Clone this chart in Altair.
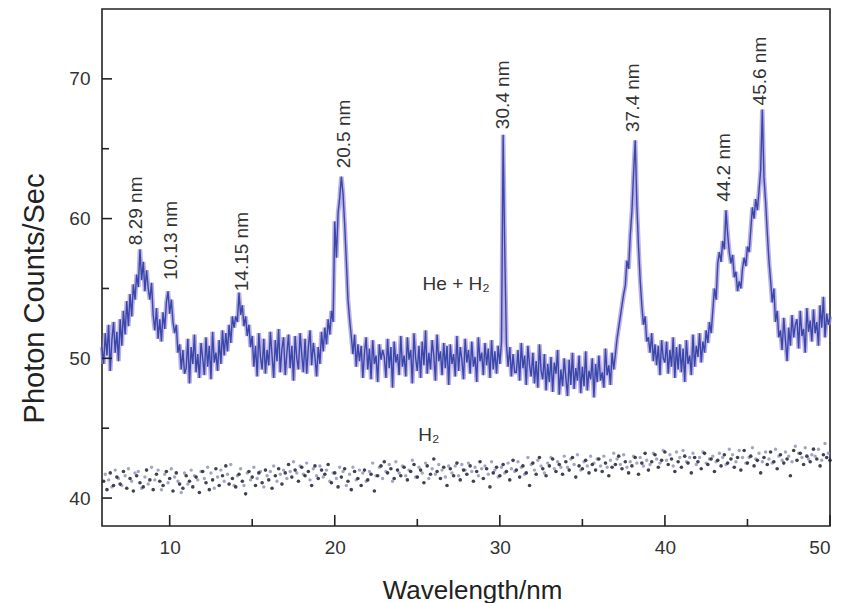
import altair as alt
import pandas as pd

# ---------------- data ----------------
# He + H2 spectrum, sampled every 0.1 nm starting at 5.9 nm
spec_start = 5.9
spec_step = 0.1
he_h2_counts = [
    50.8,
    49.6, 51.8, 50.2, 52.4, 49.1, 51.3, 52.6, 50.4, 51.9, 49.8,
    52.8, 50.9, 53.4, 51.7, 54.1, 52.3, 54.6, 53.0, 55.3, 54.2,
    56.0, 55.1, 57.8, 55.6, 56.9, 54.8, 56.3, 55.0, 54.2, 55.4,
    53.1, 52.0, 53.6, 51.4, 52.8, 51.2, 53.3, 52.1, 54.0, 54.8,
    53.2, 54.2, 52.6, 51.8, 52.4, 50.4, 51.0, 49.2, 50.6, 48.9,
    49.3, 51.4, 48.2, 50.8, 49.6, 51.7, 49.0, 50.3, 48.6, 51.1,
    50.0, 48.8, 51.5, 49.4, 50.9, 48.5, 51.9, 49.7, 50.4, 49.1,
    51.3, 49.6, 52.0, 50.2, 51.8, 50.5, 52.4, 51.1, 53.0, 52.2,
    53.0, 52.6, 54.7, 53.1, 53.8, 52.3, 53.0, 51.6, 52.4, 50.8,
    51.6, 49.4, 50.9, 48.7, 51.8, 50.1, 49.2, 51.4, 48.9, 50.6,
    49.5, 51.9, 50.2, 48.6, 51.3, 49.8, 52.1, 49.0, 50.7, 51.5,
    48.8, 50.4, 51.7, 49.3, 50.9, 48.4, 51.6, 50.0, 49.2, 51.8,
    50.3, 49.0, 51.4, 48.9, 50.8, 52.0, 49.5, 51.1, 50.1, 48.7,
    50.8, 49.6, 51.9, 50.5, 52.2, 51.0, 52.8, 51.7, 53.4, 52.6,
    59.8, 57.2, 60.4, 61.5, 63.0, 61.8, 59.6, 57.0, 54.2, 52.8,
    51.6, 50.3, 51.7, 49.4, 51.0, 49.8, 50.9, 48.6, 50.4, 51.5,
    49.2, 50.7, 48.5, 51.3, 49.6, 50.2, 48.3, 51.0, 49.9, 50.6,
    50.1, 48.6, 51.4, 49.3, 50.8, 47.9, 51.2, 49.7, 50.3, 48.8,
    51.6, 49.4, 50.2, 48.7, 51.5, 49.9, 50.6, 48.2, 51.8, 50.0,
    49.1, 50.9, 48.6, 51.2, 49.5, 52.0, 48.9, 50.4, 49.2, 51.3,
    50.2, 48.4, 51.7, 49.8, 50.5, 48.8, 51.1, 49.3, 50.9, 48.1,
    51.0, 49.6, 50.3, 48.7, 51.6, 49.1, 50.8, 49.9, 48.5, 51.4,
    49.7, 50.6, 48.9, 51.2, 49.4, 50.1, 48.3, 51.5, 49.8, 50.4,
    48.8, 51.1, 49.5, 50.7, 48.6, 51.3, 49.2, 50.5, 48.9, 50.9,
    49.6, 51.2, 66.0, 57.5, 51.0, 49.4, 50.8, 48.7, 50.3, 49.0,
    49.0, 50.6, 48.4, 51.1, 49.3, 50.2, 48.1, 50.9, 49.5, 48.7,
    50.4, 48.2, 49.8, 47.9, 51.0, 49.1, 48.5, 50.3, 47.7, 49.6,
    48.3, 50.1, 47.6, 49.7, 48.9, 50.6, 47.4, 49.2, 48.0, 50.0,
    48.6, 47.3, 49.9, 48.1, 50.4, 47.8, 49.3, 48.4, 50.2, 47.5,
    49.4, 48.0, 50.5, 47.7, 49.1, 48.5, 50.0, 47.2, 49.6, 48.3,
    50.2, 48.4, 49.0, 47.9, 50.7, 48.8, 49.5, 48.1, 50.4, 49.2,
    50.3, 51.4, 52.2, 53.0, 53.8, 54.6, 55.2, 57.0, 56.4, 58.8,
    60.5, 63.2, 65.6, 61.0, 58.0, 55.6, 53.8, 52.4, 53.0, 51.2,
    51.5, 50.4, 51.8, 49.8, 51.0, 49.5, 50.9, 48.8, 51.3, 50.0,
    49.7, 51.2, 48.9, 50.6, 49.4, 51.5, 48.6, 50.8, 49.2, 51.0,
    49.0, 50.7, 48.3, 51.3, 49.6, 50.2, 48.8, 51.7, 49.4, 50.9,
    50.1, 51.8, 49.7, 51.2, 50.4, 52.0, 51.1, 52.6, 51.8, 53.4,
    55.0, 54.2, 56.8, 57.6, 56.9, 58.4, 57.8, 60.6, 58.9, 57.6,
    56.8, 57.4, 55.8, 56.2, 54.8, 55.5, 55.0, 56.4, 57.2, 56.6,
    58.0, 57.6, 59.2, 60.8, 60.0, 61.4, 60.6, 62.0, 63.5, 67.8,
    63.0, 61.2, 59.0, 57.0, 55.6, 54.0, 55.0, 52.6, 53.4, 51.5,
    52.0, 50.6, 52.9, 51.3, 49.8, 52.2, 50.9, 53.1, 51.5, 52.4,
    52.8, 50.7, 53.4, 51.6, 52.1, 50.4, 53.6, 51.9, 52.7, 51.2,
    53.5, 51.8, 52.6, 50.9, 53.8, 52.2, 54.4, 51.5, 53.2, 52.4,
    53.0,
]

# H2-only spectrum (dots): dark dots every 0.2 nm from 6.0 nm
dark_start = 6.0
dots_step = 0.2
h2_dark = [
    41.2, 40.6, 41.8, 40.9, 41.5,
    41.0, 41.9, 40.7, 41.4, 40.5,
    41.6, 41.1, 40.8, 42.0, 41.3,
    40.6, 41.7, 41.2, 40.9, 41.9,
    41.4, 40.5, 41.8, 41.0, 40.7,
    41.6, 41.2, 40.8, 41.5, 40.4,
    41.9, 41.1, 40.6, 41.3, 42.1,
    40.9, 41.6, 42.3, 41.0, 41.4,
    40.8, 41.7, 41.2, 40.3, 41.9,
    41.5, 40.9, 41.8, 41.1, 42.0,
    41.3, 40.7, 41.6, 42.1, 41.0,
    41.8, 42.4, 41.5, 42.0, 41.2,
    42.2, 41.6, 41.9, 40.9, 42.3,
    41.4, 42.0, 41.7, 42.4, 41.1,
    41.8, 40.8, 41.5, 42.1, 41.2,
    40.6, 41.9, 41.4, 40.9, 42.0,
    41.3, 41.7, 40.5, 41.6, 42.3,
    42.6, 41.8, 42.1, 41.4, 42.0,
    41.6, 42.2, 41.3, 41.9, 42.4,
    41.5, 42.0, 41.1, 42.3, 41.7,
    42.8, 41.9, 41.4, 42.2, 40.9,
    42.1, 41.6, 42.5, 41.3, 42.0,
    41.7, 42.3, 41.2, 41.9, 42.6,
    41.4, 42.1, 40.8, 41.8, 42.2,
    41.6, 42.4, 41.9, 41.3, 42.7,
    42.0, 41.5, 42.3, 41.8, 40.9,
    42.5, 41.7, 42.9, 42.1, 41.6,
    42.3, 42.8, 41.9, 42.4, 41.7,
    42.6, 42.0, 42.9, 41.5, 42.3,
    42.1, 42.7, 41.8, 42.4, 42.0,
    42.8, 41.9, 42.5, 41.6, 42.2,
    42.4, 43.0, 42.1, 42.6, 41.8,
    42.3, 42.9, 41.7, 42.5, 43.2,
    42.0, 42.6, 43.1, 42.2, 42.7,
    43.3, 42.4, 42.8, 41.9, 42.6,
    42.2, 43.0, 42.5, 41.8, 42.9,
    42.6, 42.1, 43.2, 42.4, 42.8,
    41.9, 42.7, 42.3, 43.1, 42.5,
    42.8, 42.2, 42.9, 42.0, 43.4,
    42.5, 43.0, 42.3, 42.7, 41.8,
    42.9, 42.4, 43.3, 42.6, 42.1,
    43.1, 42.5, 42.8, 41.6, 43.4,
    42.7, 43.2, 42.4, 43.0, 42.6,
    43.5, 42.8, 42.3, 43.1, 42.9,
    42.7,
]
# lighter dots every 0.2 nm from 6.1 nm
light_start = 6.1
h2_light = [
    41.7, 41.3, 40.8, 42.0, 41.4,
    40.9, 41.6, 42.1, 41.2, 41.8,
    41.9, 40.7, 41.5, 41.0, 42.2,
    41.3, 42.0, 40.6, 41.7, 41.1,
    42.1, 41.5, 41.2, 40.4, 41.8,
    41.0, 42.0, 41.6, 41.3, 41.9,
    41.4, 42.2, 41.8, 40.7, 41.5,
    42.0, 41.2, 41.7, 42.4, 40.9,
    41.6, 42.1, 40.9, 41.8, 41.3,
    42.2, 41.4, 41.9, 40.8, 41.6,
    41.9, 42.3, 41.2, 41.7, 42.0,
    41.4, 41.9, 42.6, 41.8, 42.3,
    41.7, 42.5, 41.3, 42.1, 41.6,
    42.3, 41.5, 42.0, 41.2, 41.8,
    41.4, 42.2, 41.9, 40.9, 41.7,
    42.2, 41.3, 42.0, 41.8, 41.2,
    41.9, 42.5, 41.6, 42.2, 41.4,
    41.9, 42.4, 41.2, 42.6, 41.8,
    42.3, 41.6, 42.0, 42.7, 41.5,
    42.2, 41.8, 42.5, 41.4, 42.1,
    41.7, 42.4, 42.0, 41.5, 42.3,
    41.8, 42.3, 41.6, 42.4, 42.0,
    42.5, 41.9, 42.2, 41.6, 42.1,
    42.3, 41.7, 42.6, 42.0, 41.5,
    42.2, 41.8, 42.5, 42.1, 41.9,
    42.6, 42.2, 41.7, 42.9, 42.4,
    42.0, 42.7, 42.3, 41.8, 42.5,
    42.9, 42.1, 42.6, 42.2, 43.0,
    42.2, 42.8, 42.4, 43.1, 42.0,
    42.6, 42.3, 43.0, 42.5, 42.8,
    42.3, 43.0, 42.2, 42.7, 43.2,
    42.8, 42.4, 43.1, 42.2, 42.6,
    43.0, 42.5, 42.9, 42.3, 42.7,
    42.4, 43.2, 42.8, 42.5, 43.4,
    42.7, 43.1, 42.3, 43.3, 42.9,
    43.4, 42.6, 42.9, 43.2, 42.4,
    42.9, 43.3, 42.5, 42.8, 43.0,
    42.6, 43.2, 42.9, 42.4, 43.5,
    43.1, 42.6, 43.4, 42.9, 42.5,
    42.9, 43.6, 42.8, 43.2, 42.6,
    43.3, 42.8, 42.5, 43.5, 43.0,
    42.7, 43.3, 43.0, 42.6, 43.7,
    43.2, 42.9, 43.6, 42.8, 43.1,
    43.0, 43.5, 42.7, 43.9, 43.2,
]

peak_labels = ["8.29 nm", "10.13 nm", "14.15 nm", "20.5 nm",
               "30.4 nm", "37.4 nm", "44.2 nm", "45.6 nm"]
peak_label_x = [7.95, 10.05, 14.4, 20.55, 30.2, 38.05, 43.55, 45.75]
peak_label_y = [58.1, 55.6, 54.8, 63.6, 66.4, 66.2, 61.2, 68.1]

series_labels = ["He + H₂", "H₂"]
series_label_x = [27.35, 25.7]
series_label_y = [55.3, 44.5]

x_major = [10, 20, 30, 40, 50]
x_minor = [15, 25, 35, 45]
y_major = [40, 50, 60, 70]
y_minor = [45, 55, 65]

# ---------------- tables ----------------
spec_df = pd.DataFrame({
    "wavelength": [round(spec_start + spec_step * i, 2) for i in range(len(he_h2_counts))],
    "counts": he_h2_counts,
})
dark_df = pd.DataFrame({
    "wavelength": [round(dark_start + dots_step * i, 2) for i in range(len(h2_dark))],
    "counts": h2_dark,
})
light_df = pd.DataFrame({
    "wavelength": [round(light_start + dots_step * i, 2) for i in range(len(h2_light))],
    "counts": h2_light,
})
peaks_df = pd.DataFrame({"label": peak_labels, "x": peak_label_x, "y": peak_label_y})
series_df = pd.DataFrame({"label": series_labels, "x": series_label_x, "y": series_label_y})
xmaj_df = pd.DataFrame({"x": x_major})
xmin_df = pd.DataFrame({"x": x_minor})
ymaj_df = pd.DataFrame({"y": y_major})
ymin_df = pd.DataFrame({"y": y_minor})

FONT = "Liberation Sans"
INK = "#222222"
xs = alt.Scale(domain=[5.9, 50], nice=False, zero=False)
ys = alt.Scale(domain=[38, 75], nice=False, zero=False)

x_axis = alt.Axis(
    values=x_major, ticks=False, domain=False, grid=False,
    labelFont=FONT, labelFontSize=19, labelColor="#333", labelPadding=12,
    title="Wavelength/nm", titleFont=FONT, titleFontSize=26,
    titleFontWeight="normal", titleColor=INK,
    titleY=72, titleX=370, titleBaseline="alphabetic",
)
y_axis = alt.Axis(
    values=y_major, ticks=False, domain=False, grid=False,
    labelFont=FONT, labelFontSize=19, labelColor="#333", labelPadding=12,
    title="Photon Counts/Sec", titleFont=FONT, titleFontSize=29,
    titleFontWeight="normal", titleColor=INK,
    titleX=-68, titleY=289, titleAngle=-90, titleAlign="center", titleBaseline="middle",
)


def X(field):
    return alt.X(f"{field}:Q", scale=xs, axis=x_axis, title="Wavelength/nm")


def Y(field):
    return alt.Y(f"{field}:Q", scale=ys, axis=y_axis, title="Photon Counts/Sec")


halo = alt.Chart(spec_df).mark_line(
    color="#a090dc", strokeWidth=4.6, opacity=0.7
).encode(x=X("wavelength"), y=Y("counts"))

core = alt.Chart(spec_df).mark_line(
    color="#3241a4", strokeWidth=1.4, opacity=0.95
).encode(x=X("wavelength"), y=Y("counts"))

light_dots = alt.Chart(light_df).mark_circle(
    color="#8487b0", size=12, opacity=0.75
).encode(x=X("wavelength"), y=Y("counts"))

dark_dots = alt.Chart(dark_df).mark_circle(
    color="#1f2036", size=13, opacity=0.85
).encode(x=X("wavelength"), y=Y("counts"))

peak_text = alt.Chart(peaks_df).mark_text(
    angle=270, align="left", baseline="middle", font=FONT, fontSize=19, color="#333"
).encode(x=X("x"), y=Y("y"), text="label:N")

series_text = alt.Chart(series_df).mark_text(
    align="center", baseline="middle", font=FONT, fontSize=19, color="#333"
).encode(x=X("x"), y=Y("y"), text="label:N")

# inward tick marks, placed by the axis scales
xmaj_ticks = alt.Chart(xmaj_df).mark_rule(color=INK, strokeWidth=1.6).encode(
    x=X("x"), y=alt.value(517), y2=alt.value(506)
)
xmin_ticks = alt.Chart(xmin_df).mark_rule(color=INK, strokeWidth=1.6).encode(
    x=X("x"), y=alt.value(517), y2=alt.value(510)
)
ymaj_ticks = alt.Chart(ymaj_df).mark_rule(color=INK, strokeWidth=1.6).encode(
    y=Y("y"), x=alt.value(0), x2=alt.value(10)
)
ymin_ticks = alt.Chart(ymin_df).mark_rule(color=INK, strokeWidth=1.6).encode(
    y=Y("y"), x=alt.value(0), x2=alt.value(7)
)

chart = alt.layer(
    halo, core, light_dots, dark_dots, peak_text, series_text,
    xmaj_ticks, xmin_ticks, ymaj_ticks, ymin_ticks,
).properties(
    width=728, height=517,
    padding={"left": 102, "top": 9, "right": 15, "bottom": 77},
    autosize=alt.AutoSizeParams(type="none"),
    background="#ffffff",
).configure_view(
    stroke=INK, strokeWidth=1.6
)

chart.save("out.html", embed_options={"renderer": "svg", "actions": False})
